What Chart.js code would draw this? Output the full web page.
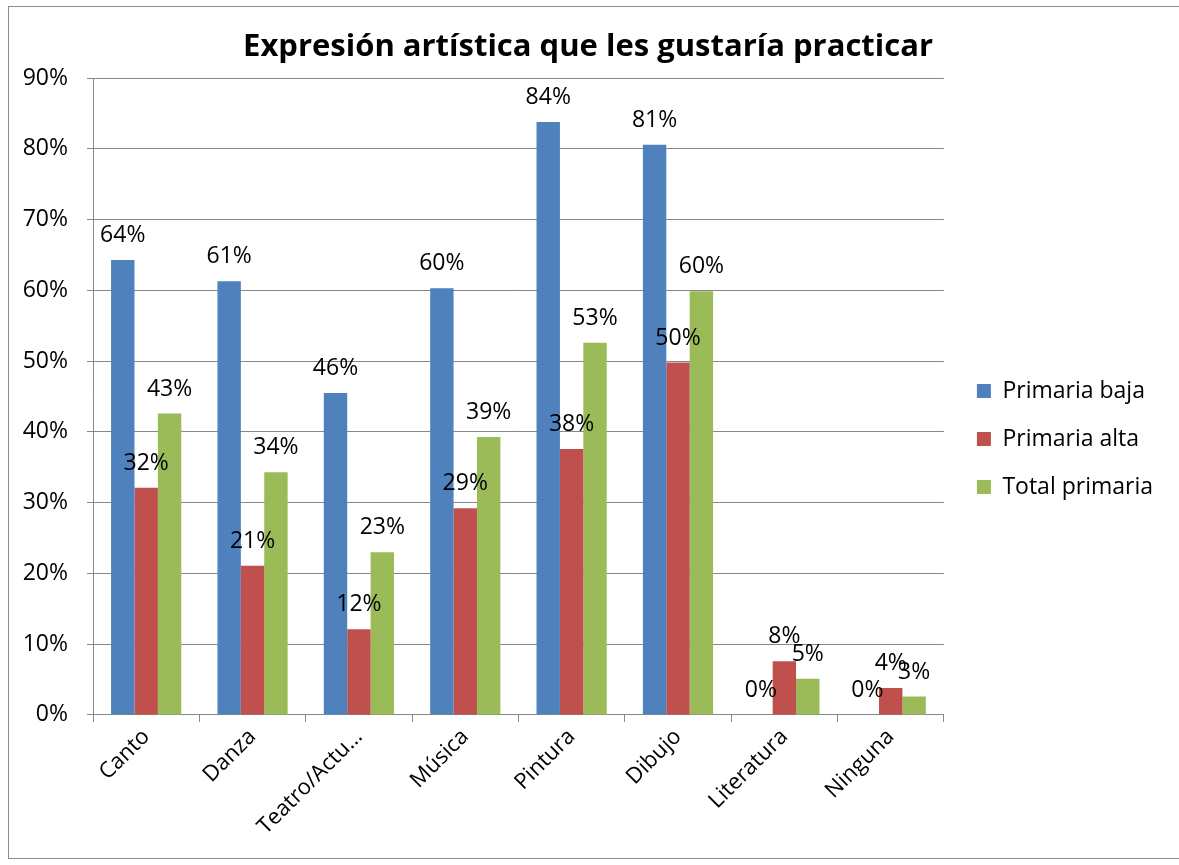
<!DOCTYPE html>
<html>
<head>
<meta charset="utf-8">
<script src="https://cdn.jsdelivr.net/npm/chart.js@4"></script>
<style>
  body { margin: 0; background: #fff; }
  #wrap { width: 1179px; height: 865px; }
</style>
</head>
<body>
<div id="wrap"><canvas id="chart"></canvas></div>
<script>
// datos
const categories = ['Canto', 'Danza', 'Teatro/Actu…', 'Música', 'Pintura', 'Dibujo', 'Literatura', 'Ninguna'];
const primariaBaja = [64.3, 61.3, 45.5, 60.3, 83.8, 80.6, 0, 0];
const primariaAlta = [32.1, 21.1, 12.1, 29.2, 37.6, 49.8, 7.6, 3.8];
const totalPrimaria = [42.6, 34.3, 23.0, 39.3, 52.6, 59.9, 5.1, 2.6];
const yTicks = [0, 10, 20, 30, 40, 50, 60, 70, 80, 90];

const FONT = "'Open Sans', sans-serif";
const gridColor = '#878787';

// etiquetas encima de las barras
const barLabels = {
  id: 'barLabels',
  afterDatasetsDraw(chart) {
    const ctx = chart.ctx;
    ctx.save();
    ctx.font = '23px ' + FONT;
    ctx.fillStyle = '#000';
    ctx.textAlign = 'center';
    ctx.textBaseline = 'bottom';
    chart.data.datasets.forEach((ds, i) => {
      chart.getDatasetMeta(i).data.forEach((bar, j) => {
        ctx.fillText(Math.round(ds.data[j]) + '%', bar.x, bar.y - 13);
      });
    });
    ctx.restore();
  }
};

// marco exterior + leyenda un poco mas a la derecha
const frame = {
  id: 'frame',
  afterLayout(chart) {
    chart.legend.left += 8;
    chart.legend.right += 8;
  },
  beforeDraw(chart) {
    const ctx = chart.ctx;
    ctx.save();
    ctx.fillStyle = '#fff';
    ctx.fillRect(0, 0, chart.width, chart.height);
    ctx.strokeStyle = '#8c8c8c';
    ctx.lineWidth = 1;
    ctx.strokeRect(8.5, 6.5, chart.width + 10, 852);
    ctx.restore();
  }
};

const ctx = document.getElementById('chart').getContext('2d');
new Chart(ctx, {
  type: 'bar',
  data: {
    labels: categories,
    datasets: [
      { label: 'Primaria baja', data: primariaBaja, backgroundColor: '#4F81BD' },
      { label: 'Primaria alta', data: primariaAlta, backgroundColor: '#C0504D' },
      { label: 'Total primaria', data: totalPrimaria, backgroundColor: '#9BBB59' }
    ]
  },
  options: {
    responsive: true,
    maintainAspectRatio: false,
    animation: false,
    layout: { padding: { left: 21, right: 24, top: 0, bottom: 23 } },
    datasets: { bar: { barPercentage: 1, categoryPercentage: 0.66 } },
    scales: {
      x: {
        grid: { drawOnChartArea: false, color: gridColor, tickLength: 7 },
        border: { color: gridColor },
        ticks: { color: '#000', font: { family: FONT, size: 22 }, minRotation: 45, maxRotation: 45, padding: 2 }
      },
      y: {
        min: 0,
        max: 90,
        afterBuildTicks: (axis) => { axis.ticks = yTicks.map(v => ({ value: v })); },
        afterFit: (axis) => { axis.width = 72; },
        grid: { color: gridColor, tickLength: 6 },
        border: { color: gridColor },
        ticks: { color: '#000', font: { family: FONT, size: 23 }, padding: 19, callback: v => v + '%' }
      }
    },
    plugins: {
      title: {
        display: true,
        text: 'Expresión artística que les gustaría practicar',
        color: '#000',
        font: { family: FONT, size: 31, weight: 'bold' },
        padding: { top: 29, bottom: 12 }
      },
      legend: {
        position: 'right',
        title: { display: true, text: ' ', font: { size: 10 }, padding: { top: 24, bottom: 0 } },
        labels: { color: '#000', font: { family: FONT, size: 23 }, boxWidth: 14, boxHeight: 14, padding: 25 }
      },
      tooltip: { enabled: false }
    }
  },
  plugins: [frame, barLabels]
});
</script>
</body>
</html>
